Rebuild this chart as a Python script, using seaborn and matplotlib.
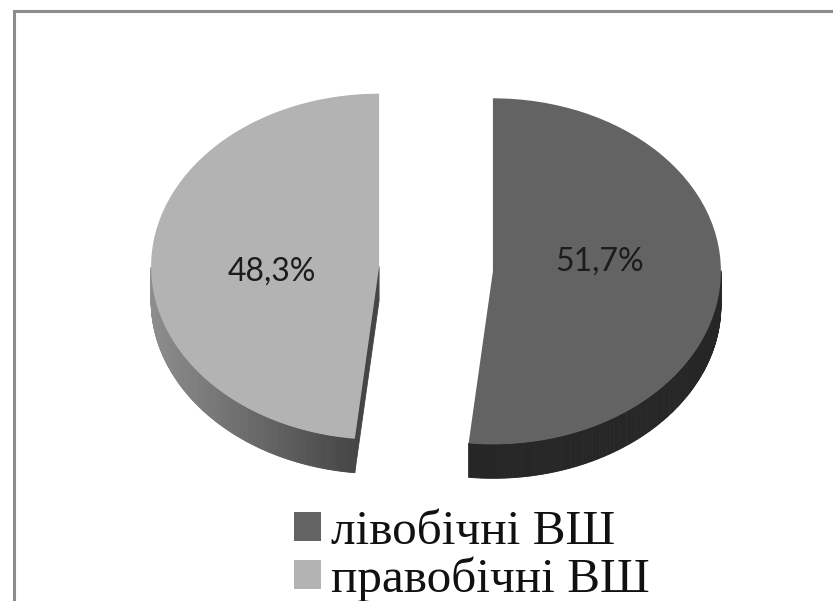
import numpy as np
import matplotlib
matplotlib.use("Agg")
import matplotlib.pyplot as plt
from matplotlib.patches import Patch
from matplotlib.collections import PolyCollection
from matplotlib.lines import Line2D
from matplotlib.font_manager import FontProperties
import seaborn as sns

# data
categories = ["лівобічні ВШ", "правобічні ВШ"]
shares = [51.7, 48.3]
top_colors = ["#636363", "#b3b3b3"]
wall_colors = ["#262626", ("#8e8e8e", "#454545")]

sns.set_theme(style="white")
plt.rcParams["font.family"] = ["Lato", "DejaVu Sans"]

W, H = 833, 601
fig = plt.figure(figsize=(W / 100, H / 100), dpi=100)
fig.patch.set_facecolor("white")
ax = fig.add_axes([0, 0, 1, 1])

# tilted disc layout (pixels)
cx_px, cy_px = 436, 269
rx_px, ry_px = 228, 173
depth = 34 / ry_px

wedges, _, autotexts = ax.pie(
    shares,
    colors=top_colors,
    startangle=90,
    counterclock=False,
    explode=[0.25, 0.25],
    autopct=lambda p: f"{p:.1f}%".replace(".", ","),
    pctdistance=0.47,
    wedgeprops=dict(linewidth=0, zorder=3),
    textprops=dict(fontsize=23, color="#1c1c1c", zorder=4),
)

# keep the percentage labels level across the two slices
label_rows_px = [262, 272]
for t, row in zip(autotexts, label_rows_px):
    x, _ = t.get_position()
    t.set_position((x, (cy_px - row) / ry_px))
    t.set_va("center")


def blend(c0, c1, t):
    a = np.array(matplotlib.colors.to_rgb(c0))
    b = np.array(matplotlib.colors.to_rgb(c1))
    return tuple(a + (b - a) * t)


# side walls of each exploded slice, built from the pie's own wedges
polys, cols = [], []
for w, wc in zip(wedges, wall_colors):
    (cx, cy), r = w.center, w.r
    n = int(abs(w.theta2 - w.theta1)) * 2 + 2
    angs = np.linspace(w.theta1, w.theta2, n)
    x_left = cx - r
    x_right = cx + r * np.cos(np.radians(w.theta2))
    for a, b in zip(angs[:-1], angs[1:]):
        m = np.radians((a + b) / 2)
        if np.sin(m) >= 0:
            continue
        ra, rb = np.radians(a), np.radians(b)
        pa = (cx + r * np.cos(ra), cy + r * np.sin(ra))
        pb = (cx + r * np.cos(rb), cy + r * np.sin(rb))
        polys.append([pa, pb, (pb[0], pb[1] - depth), (pa[0], pa[1] - depth)])
        if isinstance(wc, tuple):
            xm = (pa[0] + pb[0]) / 2
            t = np.clip((xm - x_left) / (x_right - x_left), 0, 1)
            cols.append(blend(wc[0], wc[1], t))
        else:
            cols.append(matplotlib.colors.to_rgb(wc))
    # radial cut faces turned towards the viewer
    for edge, first in ((w.theta1, True), (w.theta2, False)):
        c = np.cos(np.radians(edge))
        if (first and c > 1e-6) or ((not first) and c < -1e-6):
            re = np.radians(edge)
            p0 = (cx, cy)
            p1 = (cx + r * np.cos(re), cy + r * np.sin(re))
            polys.append([p0, p1, (p1[0], p1[1] - depth), (p0[0], p0[1] - depth)])
            cols.append(matplotlib.colors.to_rgb(wc[1] if isinstance(wc, tuple) else wc))

ax.add_collection(PolyCollection(polys, facecolors=cols, edgecolors=cols,
                                 linewidths=0.6, zorder=2))

ax.set_aspect("auto")
ax.set_xlim(-cx_px / rx_px, (W - cx_px) / rx_px)
ax.set_ylim(-(H - cy_px) / ry_px, cy_px / ry_px)
ax.axis("off")

# legend below the disc
handles = [Patch(facecolor=c, edgecolor="none") for c in top_colors]
fig.legend(
    handles, categories,
    loc="upper left",
    bbox_to_anchor=(294 / W, 1 - 510 / H),
    bbox_transform=fig.transFigure,
    frameon=False,
    borderpad=0,
    borderaxespad=0,
    handlelength=0.55,
    handleheight=0.55,
    handletextpad=0.2,
    labelspacing=0.05,
    prop=FontProperties(family=["Liberation Serif"], size=35.5),
    labelcolor="#111111",
)

# chart-area border
fig.add_artist(Line2D([13.5 / W, 13.5 / W, 1.05], [-0.05, 1 - 10.5 / H, 1 - 10.5 / H],
                      transform=fig.transFigure, color="#8c8c8c", lw=2.2,
                      solid_joinstyle="miter"))

fig.savefig("out.png", dpi=100, facecolor="white")
